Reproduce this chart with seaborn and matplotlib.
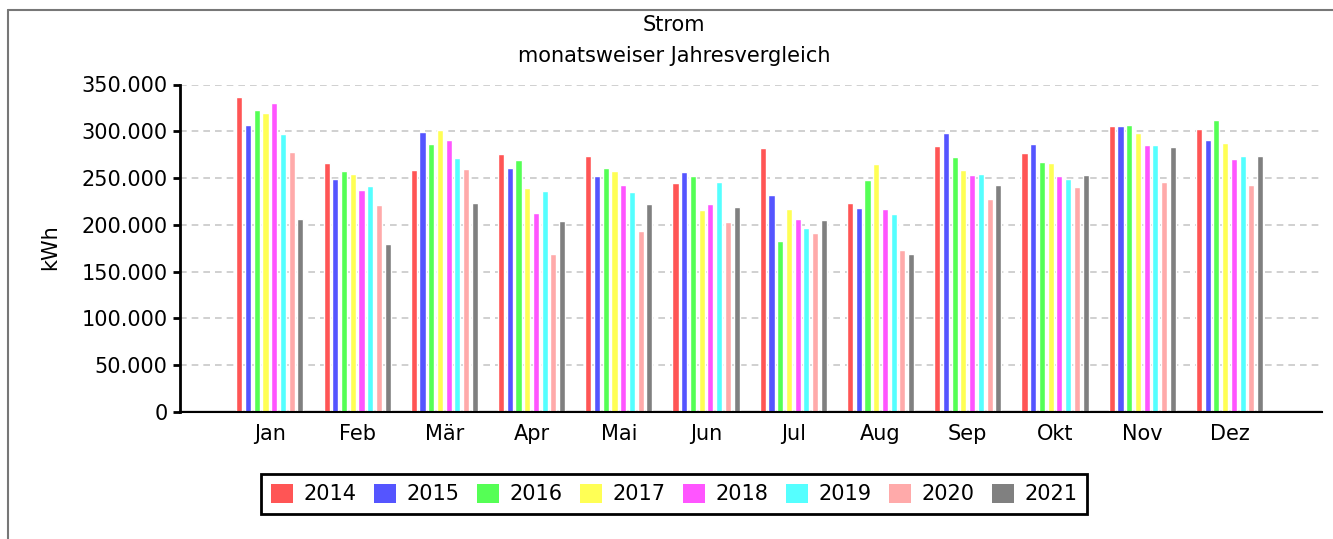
import matplotlib
matplotlib.use('Agg')
import matplotlib.pyplot as plt
import matplotlib.ticker as mticker
from matplotlib.lines import Line2D
import pandas as pd
import seaborn as sns

# Monatswerte Strom in kWh, je Jahr
monate = ['Jan', 'Feb', 'Mär', 'Apr', 'Mai', 'Jun', 'Jul', 'Aug', 'Sep', 'Okt', 'Nov', 'Dez']
jahre = ['2014', '2015', '2016', '2017', '2018', '2019', '2020', '2021']

w2014 = [336800, 266200, 258700, 275800, 273700, 244800, 282200, 223400, 284400, 276900, 305800, 302600]
w2015 = [306800, 249000, 299400, 260800, 252300, 256500, 231900, 218000, 298300, 286500, 305800, 290800]
w2016 = [322900, 257600, 286500, 269400, 260800, 252300, 182700, 248000, 272600, 267200, 306800, 312200]
w2017 = [319700, 254400, 301500, 239400, 257600, 215900, 216900, 265100, 258700, 266200, 298300, 287600]
w2018 = [330400, 237300, 290800, 212700, 242600, 222300, 206200, 216900, 253300, 252300, 285400, 270500]
w2019 = [297200, 241500, 271500, 236200, 235100, 245800, 196600, 211600, 254400, 249000, 285400, 273700]
w2020 = [277900, 221200, 259700, 168800, 193400, 203000, 191200, 173000, 227600, 240500, 245800, 242600]
w2021 = [206200, 179500, 223400, 204100, 222300, 219100, 205200, 168800, 242600, 253300, 283300, 273700]

farben = ['#ff5555', '#5555ff', '#55ff55', '#ffff55', '#ff55ff', '#55ffff', '#ffaaaa', '#808080']

werte = [w2014, w2015, w2016, w2017, w2018, w2019, w2020, w2021]
zeilen = []
for jahr, reihe in zip(jahre, werte):
    for monat, v in zip(monate, reihe):
        zeilen.append({'Monat': monat, 'Jahr': jahr, 'kWh': v})
df = pd.DataFrame(zeilen)

sns.set_style('white')
plt.rcParams['font.family'] = ['DejaVu Sans']
plt.rcParams['text.color'] = 'black'
plt.rcParams['xtick.color'] = 'black'
plt.rcParams['ytick.color'] = 'black'
plt.rcParams['axes.labelcolor'] = 'black'

fig = plt.figure(figsize=(13.33, 5.39), dpi=100)
ax = fig.add_axes([180 / 1333, 1 - 412 / 539, (1322 - 180) / 1333, (412 - 84.5) / 539])

sns.barplot(data=df, x='Monat', y='kWh', hue='Jahr', order=monate, hue_order=jahre,
            palette=farben, width=0.8, gap=0.3, saturation=1, ax=ax, legend=False)

ax.set_xlim(-1.03, 12.06)
ax.set_ylim(0, 350000)
ax.set_yticks(range(0, 350001, 50000))
ax.yaxis.set_major_formatter(mticker.FuncFormatter(lambda v, p: f'{int(v):,}'.replace(',', '.')))
ax.grid(axis='y', color='#c8c8c8', linestyle=(0, (4, 3)), linewidth=1.2)
ax.set_axisbelow(True)
ax.axhline(0, color='#a0a0a0', linewidth=2.5, zorder=0)

for s in ['top', 'right']:
    ax.spines[s].set_visible(False)
ax.spines['left'].set_color('black')
ax.spines['left'].set_linewidth(2)
ax.spines['bottom'].set_color('black')
ax.spines['bottom'].set_linewidth(1.5)

ax.tick_params(axis='y', length=5, width=2, color='black', labelsize=15, pad=4, left=True)
ax.tick_params(axis='x', length=0, labelsize=15, pad=9)
ax.set_xlabel('')
ax.set_ylabel('')

fig.text(50 / 1333, 1 - 247 / 539, 'kWh', rotation=90, fontsize=15, ha='center', va='center')
fig.text(674 / 1333, 1 - 25 / 539, 'Strom', fontsize=15, ha='center', va='center')
fig.text(674 / 1333, 1 - 56 / 539, 'monatsweiser Jahresvergleich', fontsize=15, ha='center', va='center')

# Legende
handles = [plt.Rectangle((0, 0), 1, 1, facecolor=c, edgecolor='none') for c in farben]
leg = fig.legend(handles, jahre, loc='center', bbox_to_anchor=(674 / 1333, 1 - 494 / 539),
                 ncol=8, fontsize=15, frameon=True, fancybox=False, framealpha=1,
                 handlelength=1.05, handleheight=1.05, handletextpad=0.5, columnspacing=0.85,
                 borderpad=0.45, borderaxespad=0)
leg.get_frame().set_edgecolor('black')
leg.get_frame().set_linewidth(2)

# grauer Rahmen
fig.add_artist(Line2D([8 / 1333, 8 / 1333], [0, 1 - 10 / 539], color='#777777', linewidth=1.5))
fig.add_artist(Line2D([8 / 1333, 1], [1 - 10 / 539, 1 - 10 / 539], color='#777777', linewidth=1.5))

fig.savefig('out.png', dpi=100)
